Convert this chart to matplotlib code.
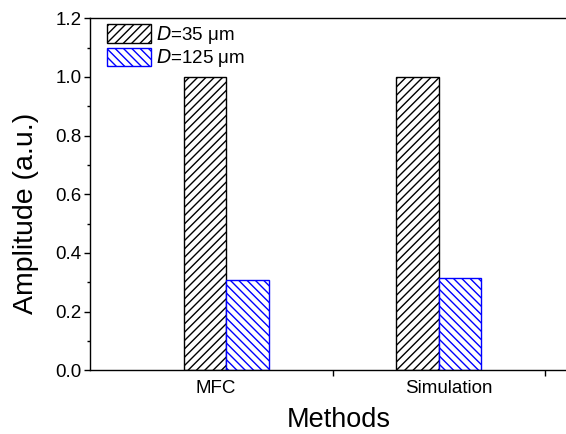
import matplotlib
matplotlib.use("Agg")
import matplotlib.pyplot as plt
import matplotlib.transforms as mtransforms
import numpy as np

plt.rcParams["font.family"] = ["Liberation Sans", "DejaVu Sans"]
plt.rcParams["hatch.linewidth"] = 1.0

methods = ["MFC", "Simulation"]
amp_35 = [1.0, 1.0]
amp_125 = [0.307, 0.316]
labels = ["$\\mathit{D}$=35 μm", "$\\mathit{D}$=125 μm"]

x = np.arange(1, len(methods) + 1)
width = 0.2

fig = plt.figure(figsize=(5.66, 4.34), dpi=100)
ax = fig.add_axes([0.159, 0.147, 0.857, 0.811])

ax.bar(x - width / 2, amp_35, width, color="white", edgecolor="black",
       hatch="////", linewidth=1.0, label=labels[0])
ax.bar(x + width / 2, amp_125, width, color="white", edgecolor="blue",
       hatch="\\\\\\\\", linewidth=1.0, label=labels[1])

for s in ax.spines.values():
    s.set_linewidth(1.0)

ax.set_xlim(0.36, 2.64)
ax.set_ylim(0, 1.2)
ax.set_xticks(x)
ax.set_xticklabels(methods, fontsize=13.5)
ax.set_xticks([1.5, 2.5], minor=True)
ax.tick_params(axis="x", which="major", length=0, pad=7)
ax.tick_params(axis="x", which="minor", length=4, width=1.0, direction="out")
# labels sit a little off the group centres in the original
shifts = [-10, 10]
for lab, dx in zip(ax.get_xticklabels(), shifts):
    lab.set_transform(lab.get_transform() +
                      mtransforms.ScaledTranslation(dx / 100, 0, fig.dpi_scale_trans))
ax.set_yticks(np.arange(0, 1.21, 0.2))
ax.set_yticks(np.arange(0.1, 1.2, 0.2), minor=True)
ax.set_yticklabels(["%.1f" % v for v in np.arange(0, 1.21, 0.2)], fontsize=13.5)
ax.tick_params(axis="y", which="major", length=4, width=1.0, pad=2, direction="out")
ax.tick_params(axis="y", which="minor", length=2.5, width=1.0, direction="out")

ax.set_xlabel("Methods", fontsize=19.5)
ax.set_ylabel("Amplitude (a.u.)", fontsize=20.5)
ax.xaxis.set_label_coords(0.513, -0.104)
ax.yaxis.set_label_coords(-0.105, 0.446)

ax.legend(loc="upper left", bbox_to_anchor=(0.02, 1.006), frameon=False,
          fontsize=13.5, handlelength=2.35, handleheight=1.15,
          borderaxespad=0.0, labelspacing=0.1, handletextpad=0.25)

fig.savefig("out.png", dpi=100)
